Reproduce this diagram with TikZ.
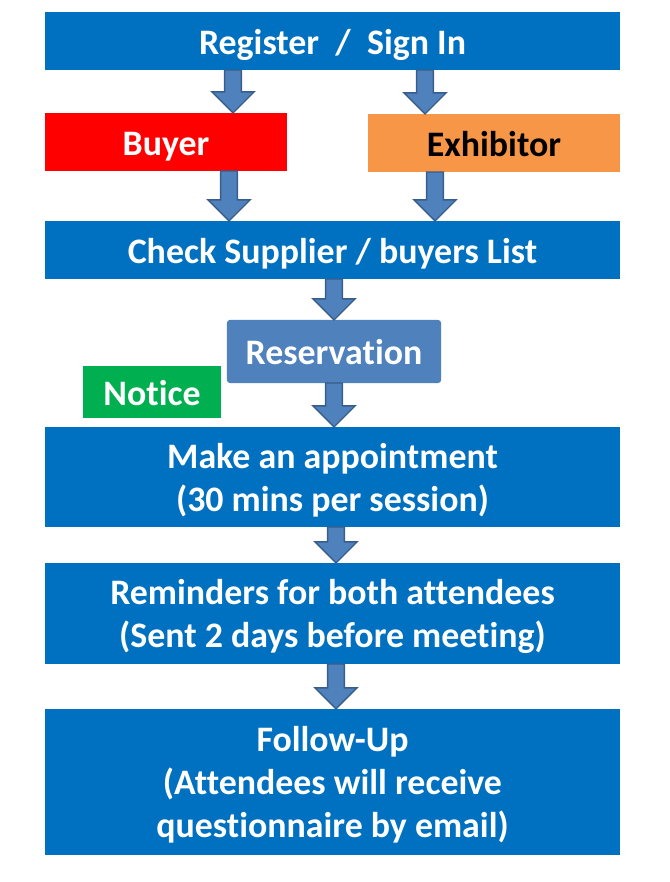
\documentclass[tikz,border=0pt]{standalone}
\usepackage{fontspec}
\setmainfont[Ligatures=NoCommon]{Carlito}
\usetikzlibrary{calc}

\definecolor{mainblue}{RGB}{0,112,192}
\definecolor{buyerred}{RGB}{255,0,0}
\definecolor{exhiborange}{RGB}{247,150,70}
\definecolor{reservblue}{RGB}{79,129,189}
\definecolor{noticegreen}{RGB}{0,176,80}
\definecolor{arrowline}{RGB}{56,93,138}

\newcommand\blockarrow[3]{%
  \filldraw[flow] let \p0=(#1,0), \p1=(#2.south), \p2=(#3.north) in
    (\x0-6pt,\y1) -- (\x0-6pt,\y2+15pt) -- (\x0-15pt,\y2+15pt) -- (\x0,\y2)
    -- (\x0+15pt,\y2+15pt) -- (\x0+6pt,\y2+15pt) -- (\x0+6pt,\y1) -- cycle;}

\begin{document}
\begin{tikzpicture}[x=0.025cm, y=-0.025cm,
    box/.style={inner sep=0pt, outer sep=0pt, align=center, text=white,
      text depth=0pt, font=\fontsize{25.5}{30.5}\selectfont\bfseries},
    oneline/.style={text height=18.5pt},
    wide/.style={box, fill=mainblue, minimum width=14.375cm},
    flow/.style={fill=reservblue, draw=arrowline, line width=1pt, line join=miter}]
  \useasboundingbox (0,0) rectangle (670,882);

  \node [wide, oneline, minimum height=1.45cm] (reg) at (332.5,41) {Register~~/~~Sign In};
  \node [box, oneline, fill=buyerred, minimum width=6.05cm, minimum height=1.45cm] (buyer) at (166,142) {Buyer};
  \node [box, oneline, fill=exhiborange, text=black, minimum width=6.3cm, minimum height=1.45cm] (exhib) at (494,143) {Exhibitor};
  \node [wide, oneline, minimum height=1.45cm] (check) at (332.5,250) {Check Supplier / buyers List};
  \node [box, oneline, fill=reservblue, rounded corners=2pt, minimum width=5.35cm, minimum height=1.575cm] (reserv) at (334,351.5) {Reservation};
  \node [box, oneline, fill=noticegreen, minimum width=3.45cm, minimum height=1.3cm] (notice) at (152,392) {Notice};
  \node [wide, minimum height=2.5cm] (make) at (332.5,477) {Make an appointment\\(30 mins per session)};
  \node [wide, minimum height=2.525cm] (remind) at (332.5,613.5) {Reminders for both attendees\\(Sent 2 days before meeting)};
  \node [wide, minimum height=3.65cm] (follow) at (332.5,782) {Follow-Up\\(Attendees will receive\\questionnaire by email)};

  \blockarrow{233}{reg}{buyer}
  \blockarrow{425}{reg}{exhib}
  \blockarrow{229}{buyer}{check}
  \blockarrow{435}{exhib}{check}
  \blockarrow{334}{check}{reserv}
  \blockarrow{334}{reserv}{make}
  \blockarrow{336}{make}{remind}
  \blockarrow{336}{remind}{follow}
\end{tikzpicture}
\end{document}
